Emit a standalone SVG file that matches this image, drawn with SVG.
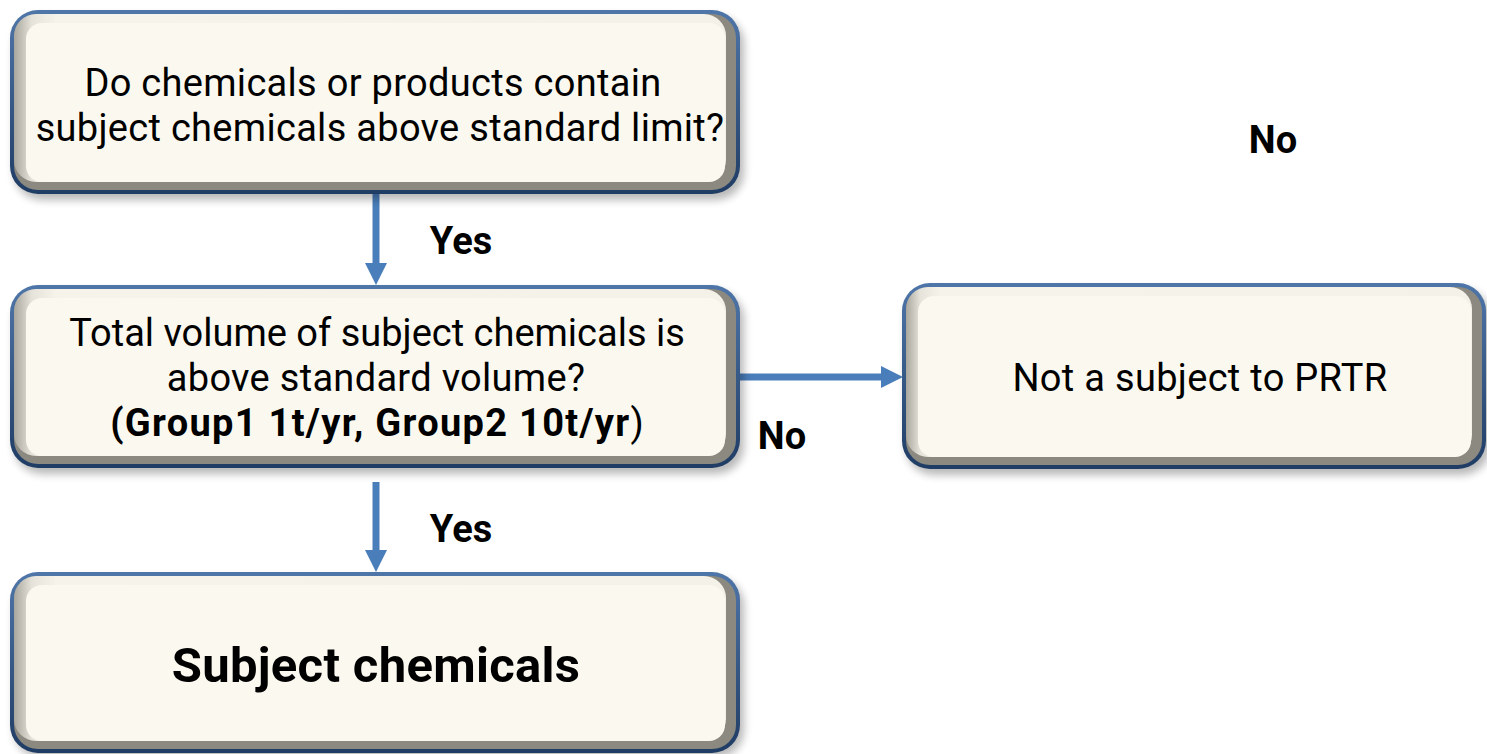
<svg xmlns="http://www.w3.org/2000/svg" width="1487" height="754" viewBox="0 0 1487 754">
<defs>
<linearGradient id="rim" x1="0" y1="0" x2="0" y2="1">
<stop offset="0" stop-color="#4f76a9"/>
<stop offset="1" stop-color="#1f3c64"/>
</linearGradient>
<linearGradient id="hl" x1="0" y1="0" x2="1" y2="0">
<stop offset="0" stop-color="#a9a79d"/>
<stop offset="0.025" stop-color="#e6e4da"/>
<stop offset="0.06" stop-color="#f6f4ea"/>
<stop offset="1" stop-color="#f4f2e8"/>
</linearGradient>
<filter id="sh" x="-10%" y="-10%" width="120%" height="130%">
<feGaussianBlur stdDeviation="4"/>
</filter>
<marker id="ah" markerUnits="userSpaceOnUse" markerWidth="23" markerHeight="24" refX="0" refY="12" orient="auto">
<path d="M0,1 L22,12 L0,23 z" fill="#4a7ebb"/>
</marker>
<style>
.shadow{fill:#000;opacity:0.28;filter:url(#sh)}
.rim{fill:url(#rim)}
.bev{fill:#8b8980}
.hl{fill:url(#hl)}
.in{fill:#fbf9ef}
.t{font-family:Roboto,"Noto Sans","DejaVu Sans",sans-serif;font-size:38px;fill:#000;text-anchor:middle}
.b{font-weight:bold}
.sp{letter-spacing:0.3px}
.lbl{font-family:Roboto,"Noto Sans","DejaVu Sans",sans-serif;font-size:38px;font-weight:bold;fill:#000;text-anchor:middle}
.c{stroke:#4a7ebb;stroke-width:7;fill:none;marker-end:url(#ah)}
</style>
</defs>

<g id="connectors">
<line class="c" x1="376" y1="194" x2="376" y2="263"/>
<line class="c" x1="740" y1="377" x2="881" y2="377"/>
<line class="c" x1="376" y1="482" x2="376" y2="550"/>
</g>

<g id="box1">
<rect class="shadow" x="14" y="16" width="730" height="184" rx="28"/>
<rect class="rim" x="10" y="10" width="730" height="184" rx="28"/>
<rect class="bev" x="14" y="14" width="722" height="176" rx="24"/>
<rect class="hl" x="14" y="14" width="712" height="168" rx="22"/>
<rect class="in" x="26" y="23" width="699" height="159" rx="16"/>
<text class="t sp"><tspan x="373" y="96">Do chemicals or products contain</tspan><tspan x="380" y="141">subject chemicals above standard limit?</tspan></text>
</g>

<g id="box2">
<rect class="shadow" x="14" y="291" width="730" height="183" rx="28"/>
<rect class="rim" x="10" y="285" width="730" height="183" rx="28"/>
<rect class="bev" x="14" y="289" width="722" height="175" rx="24"/>
<rect class="hl" x="14" y="289" width="712" height="167" rx="22"/>
<rect class="in" x="26" y="298" width="699" height="158" rx="16"/>
<text class="t"><tspan x="377" y="346">Total volume of subject chemicals is</tspan><tspan class="sp" x="376" y="391">above standard volume?</tspan><tspan x="377" y="436"><tspan class="b" style="letter-spacing:1.3px">(Group1 1t/yr, Group2 10t/yr</tspan>)</tspan></text>
</g>

<g id="box3">
<rect class="shadow" x="14" y="578" width="730" height="180" rx="28"/>
<rect class="rim" x="10" y="572" width="730" height="181" rx="28"/>
<rect class="bev" x="14" y="576" width="722" height="173" rx="24"/>
<rect class="hl" x="14" y="576" width="712" height="165" rx="22"/>
<rect class="in" x="26" y="585" width="699" height="156" rx="16"/>
<text class="t b" x="376" y="682" style="font-size:49px;letter-spacing:0.3px">Subject chemicals</text>
</g>

<g id="box4">
<rect class="shadow" x="906" y="289" width="584" height="186" rx="28"/>
<rect class="rim" x="902" y="283" width="584" height="186" rx="28"/>
<rect class="bev" x="906" y="287" width="576" height="178" rx="24"/>
<rect class="hl" x="906" y="287" width="566" height="170" rx="22"/>
<rect class="in" x="918" y="296" width="553" height="161" rx="16"/>
<text class="t sp" x="1200" y="391">Not a subject to PRTR</text>
</g>

<g id="labels">
<text class="lbl" x="461" y="254">Yes</text>
<text class="lbl" x="461" y="542">Yes</text>
<text class="lbl" x="782" y="449">No</text>
<text class="lbl" x="1273" y="153">No</text>
</g>
</svg>
